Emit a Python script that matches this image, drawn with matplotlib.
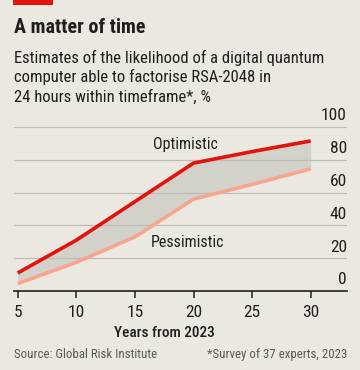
import matplotlib
matplotlib.use("Agg")
import matplotlib.pyplot as plt
from matplotlib import font_manager
from matplotlib.patches import Rectangle

# data
years = [5, 10, 15, 20, 25, 30]
optimistic = [11, 31, 54.5, 78, 85, 91.5]
pessimistic = [4.5, 17.5, 33, 56, 65, 74.5]
yticks = [0, 20, 40, 60, 80, 100]

names = {f.name for f in font_manager.fontManager.ttflist}
font = "DejaVu Sans"
for cand in ["Liberation Sans Narrow", "Roboto Condensed", "Roboto", "Liberation Sans"]:
    if cand in names:
        font = cand
        break
plt.rcParams['font.family'] = [font, 'DejaVu Sans']

bg = "#EAE8E0"
red = "#E3120B"
salmon = "#F7A58F"
txt = "#1F1F1F"
grey = "#595959"

fig = plt.figure(figsize=(3.6, 3.7), dpi=100, facecolor=bg)
ax = fig.add_axes([14/360, 79/370, 333/360, 164/370])
ax.set_facecolor(bg)

ax.fill_between(years, pessimistic, optimistic, color="#D3D2CA", lw=0)
ax.plot(years, pessimistic, color=salmon, lw=2.6, solid_capstyle='butt', zorder=3)
ax.plot(years, optimistic, color=red, lw=2.6, solid_capstyle='butt', zorder=4)

ax.set_xlim(4.68, 33.1)
ax.set_ylim(0, 100)
for v in yticks[1:]:
    ax.axhline(v, color="#BDBCB5", lw=0.9, zorder=1)
for v in yticks:
    ax.text(1.0, v + 2.2, str(v), transform=ax.get_yaxis_transform(),
            ha='right', va='bottom', fontsize=12.5, color=txt)

for s in ['top', 'right', 'left']:
    ax.spines[s].set_visible(False)
ax.spines['bottom'].set_color(txt)
ax.spines['bottom'].set_linewidth(1.2)
ax.set_yticks([])
ax.set_xticks(years)
ax.tick_params(axis='x', length=5, width=1.1, color=txt, pad=5,
               labelsize=12.5, labelcolor=txt)

ax.text(19.3, 89.5, "Optimistic", ha='center', va='center', fontsize=11.5, color=txt)
ax.text(19.5, 29.5, "Pessimistic", ha='center', va='center', fontsize=11.5, color=txt)

fig.text(164/360, 1 - 337/370, "Years from 2023", ha='center', va='baseline',
         fontsize=11, color=txt, fontweight='medium')

fig.patches.append(Rectangle((13/360, 1 - 5/370), 40/360, 5/370,
                             transform=fig.transFigure, color=red, lw=0))
fig.text(14/360, 1 - 33/370, "A matter of time", ha='left', va='baseline',
         fontsize=14.5, fontweight='bold', color=txt)
sub = ["Estimates of the likelihood of a digital quantum",
       "computer able to factorise RSA-2048 in",
       "24 hours within timeframe*, %"]
for i, line in enumerate(sub):
    fig.text(14/360, 1 - (62.5 + 19.5*i)/370, line, ha='left', va='baseline',
             fontsize=12, color=txt)

fig.text(14/360, 1 - 358/370, "Source: Global Risk Institute", ha='left',
         va='baseline', fontsize=9.3, color=grey)
fig.text(347/360, 1 - 358/370, "*Survey of 37 experts, 2023", ha='right',
         va='baseline', fontsize=9.3, color=grey)

fig.savefig("out.png", dpi=100, facecolor=bg)
